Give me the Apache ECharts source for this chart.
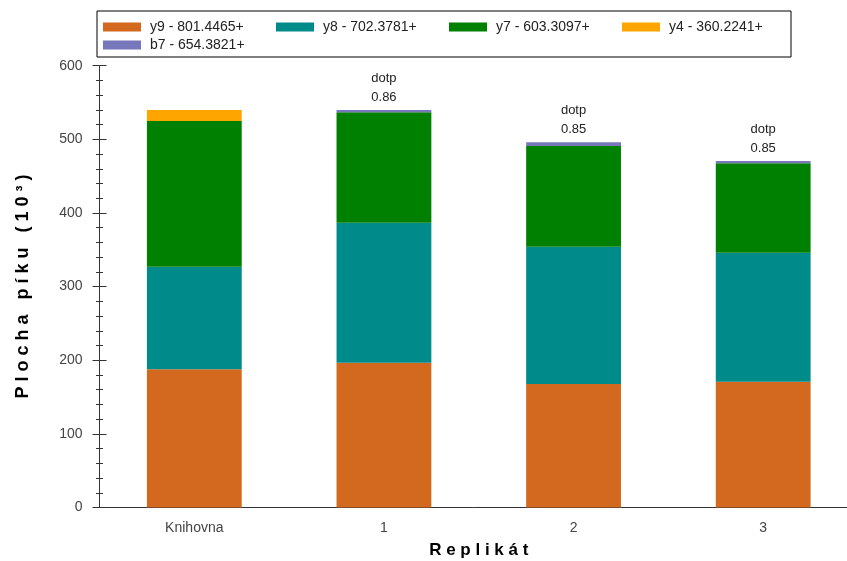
<!DOCTYPE html>
<html>
<head>
<meta charset="utf-8">
<script src="https://cdn.jsdelivr.net/npm/echarts@6/dist/echarts.min.js"></script>
<style>html,body{margin:0;padding:0;background:#fff;}#c{width:847px;height:561px;}</style>
</head>
<body>
<div id="c"></div>
<script>
const categories = ['Knihovna', '1', '2', '3'];
const y9 = [187.7, 196.7, 167.7, 170.9];
const y8 = [139.3, 190.1, 186.5, 175.2];
const y7 = [197.9, 149.9, 136.8, 121.4];
const y4 = [15.0, 0, 0, 0];
const b7 = [0, 3.2, 5.0, 3.1];
const dotpLabels = ['', 'dotp\n0.86', 'dotp\n0.85', 'dotp\n0.85'];
const seriesNames = ['y9 - 801.4465+', 'y8 - 702.3781+', 'y7 - 603.3097+', 'y4 - 360.2241+', 'b7 - 654.3821+'];
const colors = ['#D2691E', '#008B8B', '#008000', '#FFA500', '#7777BB'];
const yTicks = [0, 100, 200, 300, 400, 500, 600];

const FONT = 'Arial, "Liberation Sans", sans-serif';
const chart = echarts.init(document.getElementById('c'), null, {renderer: 'canvas'});

const values = [y9, y8, y7, y4, b7];
const series = values.map((v, i) => ({
  name: seriesNames[i],
  type: 'bar',
  stack: 'total',
  barWidth: '50%',
  yAxisIndex: 0,
  itemStyle: {color: colors[i]},
  data: v,
  label: i === 4 ? {
    show: true,
    position: 'top',
    distance: 3,
    color: '#222',
    fontFamily: FONT,
    fontSize: 13,
    lineHeight: 19,
    formatter: p => dotpLabels[p.dataIndex]
  } : {show: false}
}));

const yCommon = {
  type: 'value',
  min: yTicks[0],
  max: yTicks[yTicks.length - 1],
  interval: 100,
  splitLine: {show: false},
};

chart.setOption({
  animation: false,
  color: colors,
  grid: {left: 99.5, top: 65.7, width: 758.5, height: 441.8, containLabel: false, outerBoundsMode: 'none'},
  legend: {
    left: 97,
    top: 11,
    orient: 'horizontal',
    width: 700,
    itemWidth: 38,
    itemHeight: 9,
    itemGap: 4,
    padding: [9, 0, 5, 6],
    borderColor: '#000',
    borderWidth: 1,
    icon: 'rect',
    textStyle: {fontFamily: FONT, fontSize: 14, color: '#222', width: 122, lineHeight: 14, padding: [0, 0, 0, 4]},
    data: seriesNames
  },
  xAxis: {
    type: 'category',
    data: categories,
    name: 'R e p l i k á t',
    nameLocation: 'middle',
    nameGap: 34,
    nameTextStyle: {fontFamily: FONT, fontSize: 17, fontWeight: 'bold', color: '#000'},
    axisLine: {lineStyle: {color: '#333', width: 1}},
    axisTick: {alignWithLabel: true, length: 7, lineStyle: {color: '#333'}},
    axisLabel: {fontFamily: FONT, fontSize: 14, color: '#444', margin: 14}
  },
  yAxis: [
    Object.assign({}, yCommon, {
      name: 'P l o c h a   p í k u   ( 1 0 ³ )',
      nameLocation: 'middle',
      nameGap: 67,
      nameTextStyle: {fontFamily: FONT, fontSize: 18, fontWeight: 'bold', color: '#000'},
      axisLine: {show: true, lineStyle: {color: '#333', width: 1}},
      axisTick: {show: true, length: 7, lineStyle: {color: '#333'}},
      minorTick: {show: true, splitNumber: 5, length: 3.5, lineStyle: {color: '#333'}},
      axisLabel: {fontFamily: FONT, fontSize: 14, color: '#444', margin: 17}
    }),
    Object.assign({}, yCommon, {
      position: 'left',
      axisLine: {show: false},
      axisTick: {show: true, inside: true, length: 7, lineStyle: {color: '#333'}},
      minorTick: {show: true, splitNumber: 5, length: 3.5, lineStyle: {color: '#333'}},
      axisLabel: {show: false}
    })
  ],
  series: series
});
</script>
</body>
</html>
